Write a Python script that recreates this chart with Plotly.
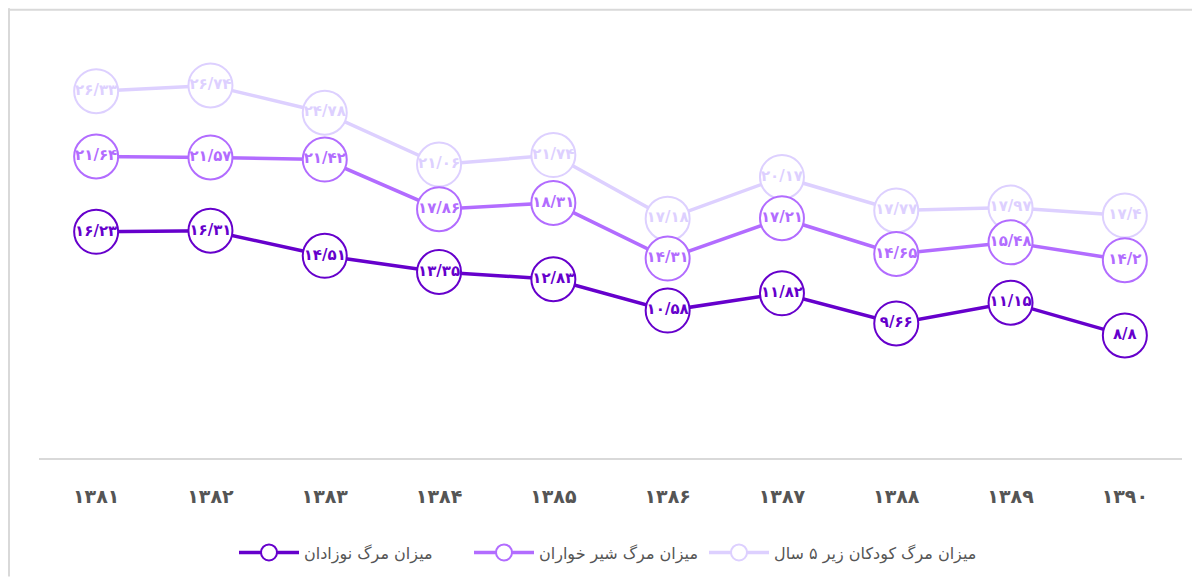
import plotly.graph_objects as go

years = ["۱۳۸۱", "۱۳۸۲", "۱۳۸۳", "۱۳۸۴", "۱۳۸۵", "۱۳۸۶", "۱۳۸۷", "۱۳۸۸", "۱۳۸۹", "۱۳۹۰"]
neonatal = [16.23, 16.31, 14.51, 13.35, 12.83, 10.58, 11.82, 9.66, 11.15, 8.8]
infant = [21.64, 21.57, 21.42, 17.86, 18.31, 14.31, 17.21, 14.65, 15.48, 14.2]
under5 = [26.33, 26.74, 24.78, 21.06, 21.74, 17.18, 20.17, 17.77, 17.97, 17.4]

names = ["میزان مرگ نوزادان", "میزان مرگ شیر خواران", "میزان مرگ کودکان زیر ۵ سال"]
colors = ["#6600cc", "#b26cff", "#ddd0ff"]
legend_ids = ["legend", "legend", "legend2"]

P2F = str.maketrans("0123456789.", "۰۱۲۳۴۵۶۷۸۹/")


def fa(v):
    s = ("%.2f" % v).rstrip("0").rstrip(".")
    return s.translate(P2F)


W, H = 1184, 571
L, R, T, B = 31, 10, 32, 119
pw, ph = W - L - R, H - T - B

fig = go.Figure()
series = [neonatal, infant, under5]
for idx in [2, 1, 0]:
    vals = series[idx]
    fig.add_trace(go.Scatter(
        x=years, y=vals, name=names[idx],
        mode="lines+markers+text",
        text=["<b>%s</b>" % fa(v) for v in vals],
        textposition="middle center",
        textfont=dict(family="DejaVu Sans", size=15, color=colors[idx]),
        line=dict(color=colors[idx], width=3.5),
        marker=dict(size=44, color="white", line=dict(color=colors[idx], width=2)),
        cliponaxis=False,
        legendrank=idx + 1,
        legend=legend_ids[idx],
    ))

leg_common = dict(orientation="h", xanchor="left",
                  y=-(547 - T - ph) / ph, yanchor="middle",
                  font=dict(family="DejaVu Sans", size=16, color="#555555"),
                  traceorder="normal", itemwidth=60)

fig.update_layout(
    width=W, height=H,
    margin=dict(l=L, r=R, t=T, b=B),
    paper_bgcolor="white", plot_bgcolor="white",
    showlegend=True,
    legend=dict(x=(226 - L) / pw, entrywidth=160, **leg_common),
    legend2=dict(x=(226 + 2 * 235 - L) / pw, **leg_common),
    xaxis=dict(type="category", range=[-0.5, 9.5], showgrid=False, zeroline=False,
               showline=True, linecolor="#d9d9d9", linewidth=2,
               ticks="", ticklabelstandoff=20,
               tickfont=dict(family="DejaVu Sans", size=19, color="#555555", weight="bold")),
    yaxis=dict(range=[0, 30], showgrid=False, zeroline=False, showticklabels=False,
               showline=False),
    shapes=[
        dict(type="line", xref="paper", yref="paper",
             x0=(0 - L) / pw, x1=(W - L) / pw,
             y0=(T + ph - 1.5) / ph, y1=(T + ph - 1.5) / ph,
             line=dict(color="#d9d9d9", width=2)),
        dict(type="line", xref="paper", yref="paper",
             x0=(1 - L) / pw, x1=(1 - L) / pw,
             y0=(T + ph) / ph, y1=(T + ph - H) / ph,
             line=dict(color="#d9d9d9", width=2)),
    ],
)

fig.write_html("out.html")
